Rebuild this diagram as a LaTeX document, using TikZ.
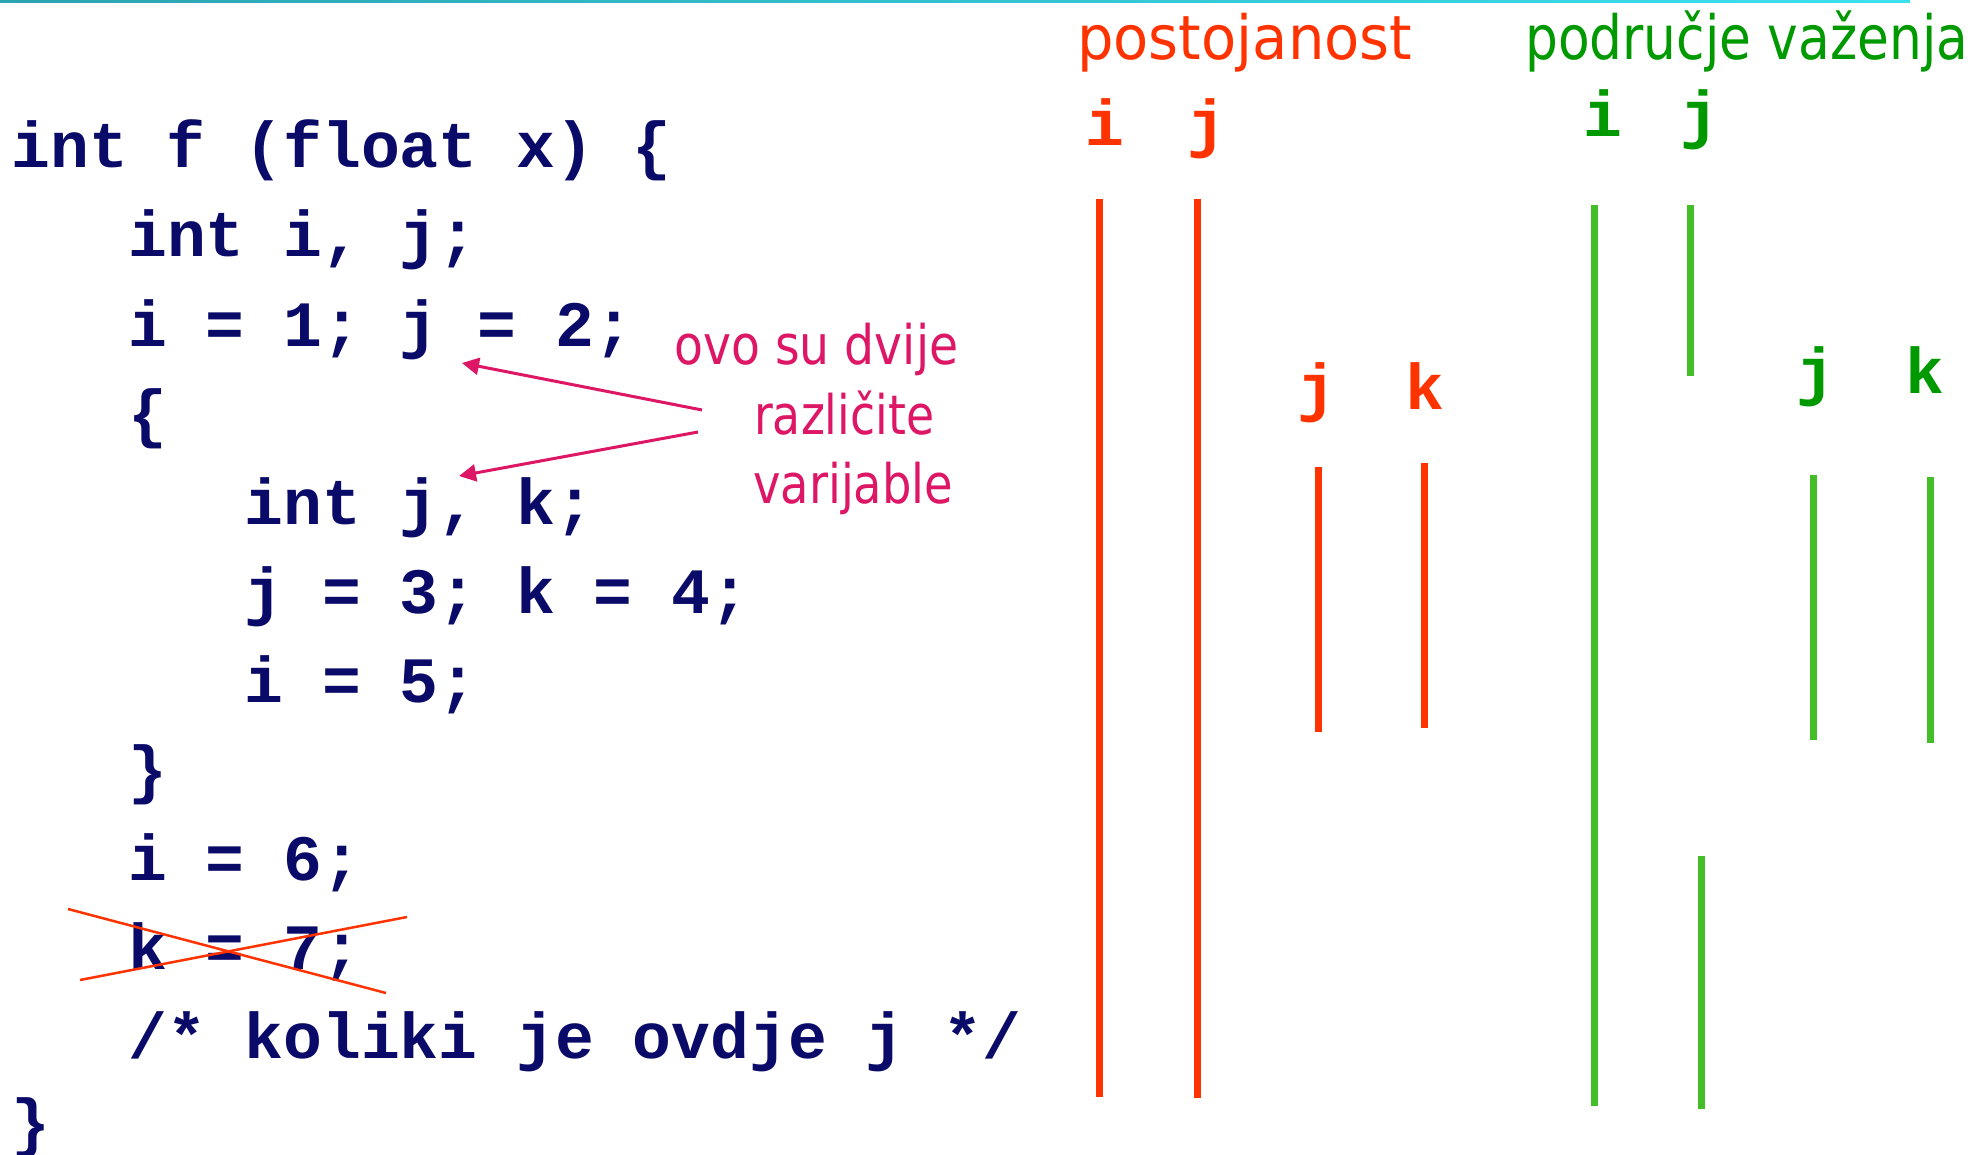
\documentclass[tikz,border=0pt]{standalone}
\usepackage{fontspec}
\usetikzlibrary{arrows.meta}
\newfontfamily\codefont{Liberation Mono}
\newfontfamily\labfont{DejaVu Sans}
\definecolor{codeblue}{RGB}{10,10,105}
\definecolor{lifered}{RGB}{255,51,0}
\definecolor{titlegreen}{RGB}{0,153,0}
\definecolor{scopegreen}{RGB}{68,190,40}
\definecolor{notepink}{RGB}{221,22,102}
\definecolor{barleft}{RGB}{43,163,176}
\definecolor{barright}{RGB}{59,224,240}
\frenchspacing
\tikzset{
  codeline/.style={anchor=base west, inner sep=0pt, text=codeblue, font=\codefont\bfseries\fontsize{64.7}{70}\selectfont},
  varlab/.style={anchor=base, inner sep=0pt, font=\codefont\bfseries\fontsize{64.7}{70}\selectfont},
  titletext/.style={anchor=base west, inner sep=0pt, font=\labfont\fontsize{61}{66}\selectfont},
  notetext/.style={anchor=base west, inner sep=0pt, text=notepink, font=\labfont\fontsize{54.5}{60}\selectfont},
  redbar/.style={draw=lifered, line width=7pt},
  greenbar/.style={draw=scopegreen, line width=7pt},
  pointer/.style={draw=notepink, line width=3pt, -{Triangle[length=17pt,width=17pt]}},
  strike/.style={draw=lifered, line width=2.5pt},
}
\begin{document}
\begin{tikzpicture}[x=1pt,y=-1pt]
\useasboundingbox (0,0) rectangle (1980,1155);
\fill[white] (0,0) rectangle (1980,1155);
% top bar
\shade[left color=barleft, right color=barright] (0,0) rectangle (1910,3);

% code
\node[codeline] (c1)  at (11.5,168)  {int f (float x) \{};
\node[codeline] (c2)  at (128,257)   {int i, j;};
\node[codeline] (c3)  at (128,346)   {i = 1; j = 2;};
\node[codeline] (c4)  at (128,435)   {\{};
\node[codeline] (c5)  at (244.3,524) {int j, k;};
\node[codeline] (c6)  at (244.3,613) {j = 3; k = 4;};
\node[codeline] (c7)  at (244.3,702) {i = 5;};
\node[codeline] (c8)  at (128,791)   {\}};
\node[codeline] (c9)  at (128,880)   {i = 6;};
\node[codeline] (c10) at (128,969)   {k = 7;};
\node[codeline] (c11) at (128,1058)  {/* koliki je ovdje j */};
\node[codeline] (c12) at (11.5,1144) {\}};

% strike-out
\draw[strike] (68,909) -- (386,993);
\draw[strike] (80,980) -- (407,917);

% annotation
\node[notetext] (n1) at (674,365) {\resizebox{284pt}{\height}{ovo su dvije}};
\node[notetext] (n2) at (754,434) {\resizebox{180pt}{\height}{različite}};
\node[notetext] (n3) at (753,503) {\resizebox{200pt}{\height}{varijable}};
\coordinate (t1) at (702,410);
\coordinate (h1) at (462,363);
\coordinate (t2) at (698,432);
\coordinate (h2) at (459,476);
\draw[pointer] (t1) -- (h1);
\draw[pointer] (t2) -- (h2);

% titles
\node[titletext, text=lifered] (tpost) at (1077,60) {\resizebox{335pt}{\height}{postojanost}};
\node[titletext, text=titlegreen] (tscope) at (1525,60) {\resizebox{443pt}{\height}{područje važenja}};

% lifetime labels
\node[varlab, text=lifered] (ri) at (1105,146) {i};
\node[varlab, text=lifered] (rj) at (1207,146) {j};
\node[varlab, text=lifered] (rj2) at (1317,409) {j};
\node[varlab, text=lifered] (rk) at (1425,409) {k};
% scope labels
\node[varlab, text=titlegreen] (gi) at (1603,137) {i};
\node[varlab, text=titlegreen] (gj) at (1700,137) {j};
\node[varlab, text=titlegreen] (gj2) at (1816,393) {j};
\node[varlab, text=titlegreen] (gk) at (1925,393) {k};

% lifetime bars
\draw[redbar] (1099,199) -- (1099,1097);
\draw[redbar] (1197,199) -- (1197,1098);
\draw[redbar] (1318,467) -- (1318,732);
\draw[redbar] (1424,463) -- (1424,728);
% scope bars
\draw[greenbar] (1594,205) -- (1594,1106);
\draw[greenbar] (1690,205) -- (1690,376);
\draw[greenbar] (1701,856) -- (1701,1109);
\draw[greenbar] (1813,475) -- (1813,740);
\draw[greenbar] (1930,477) -- (1930,743);
\end{tikzpicture}
\end{document}
